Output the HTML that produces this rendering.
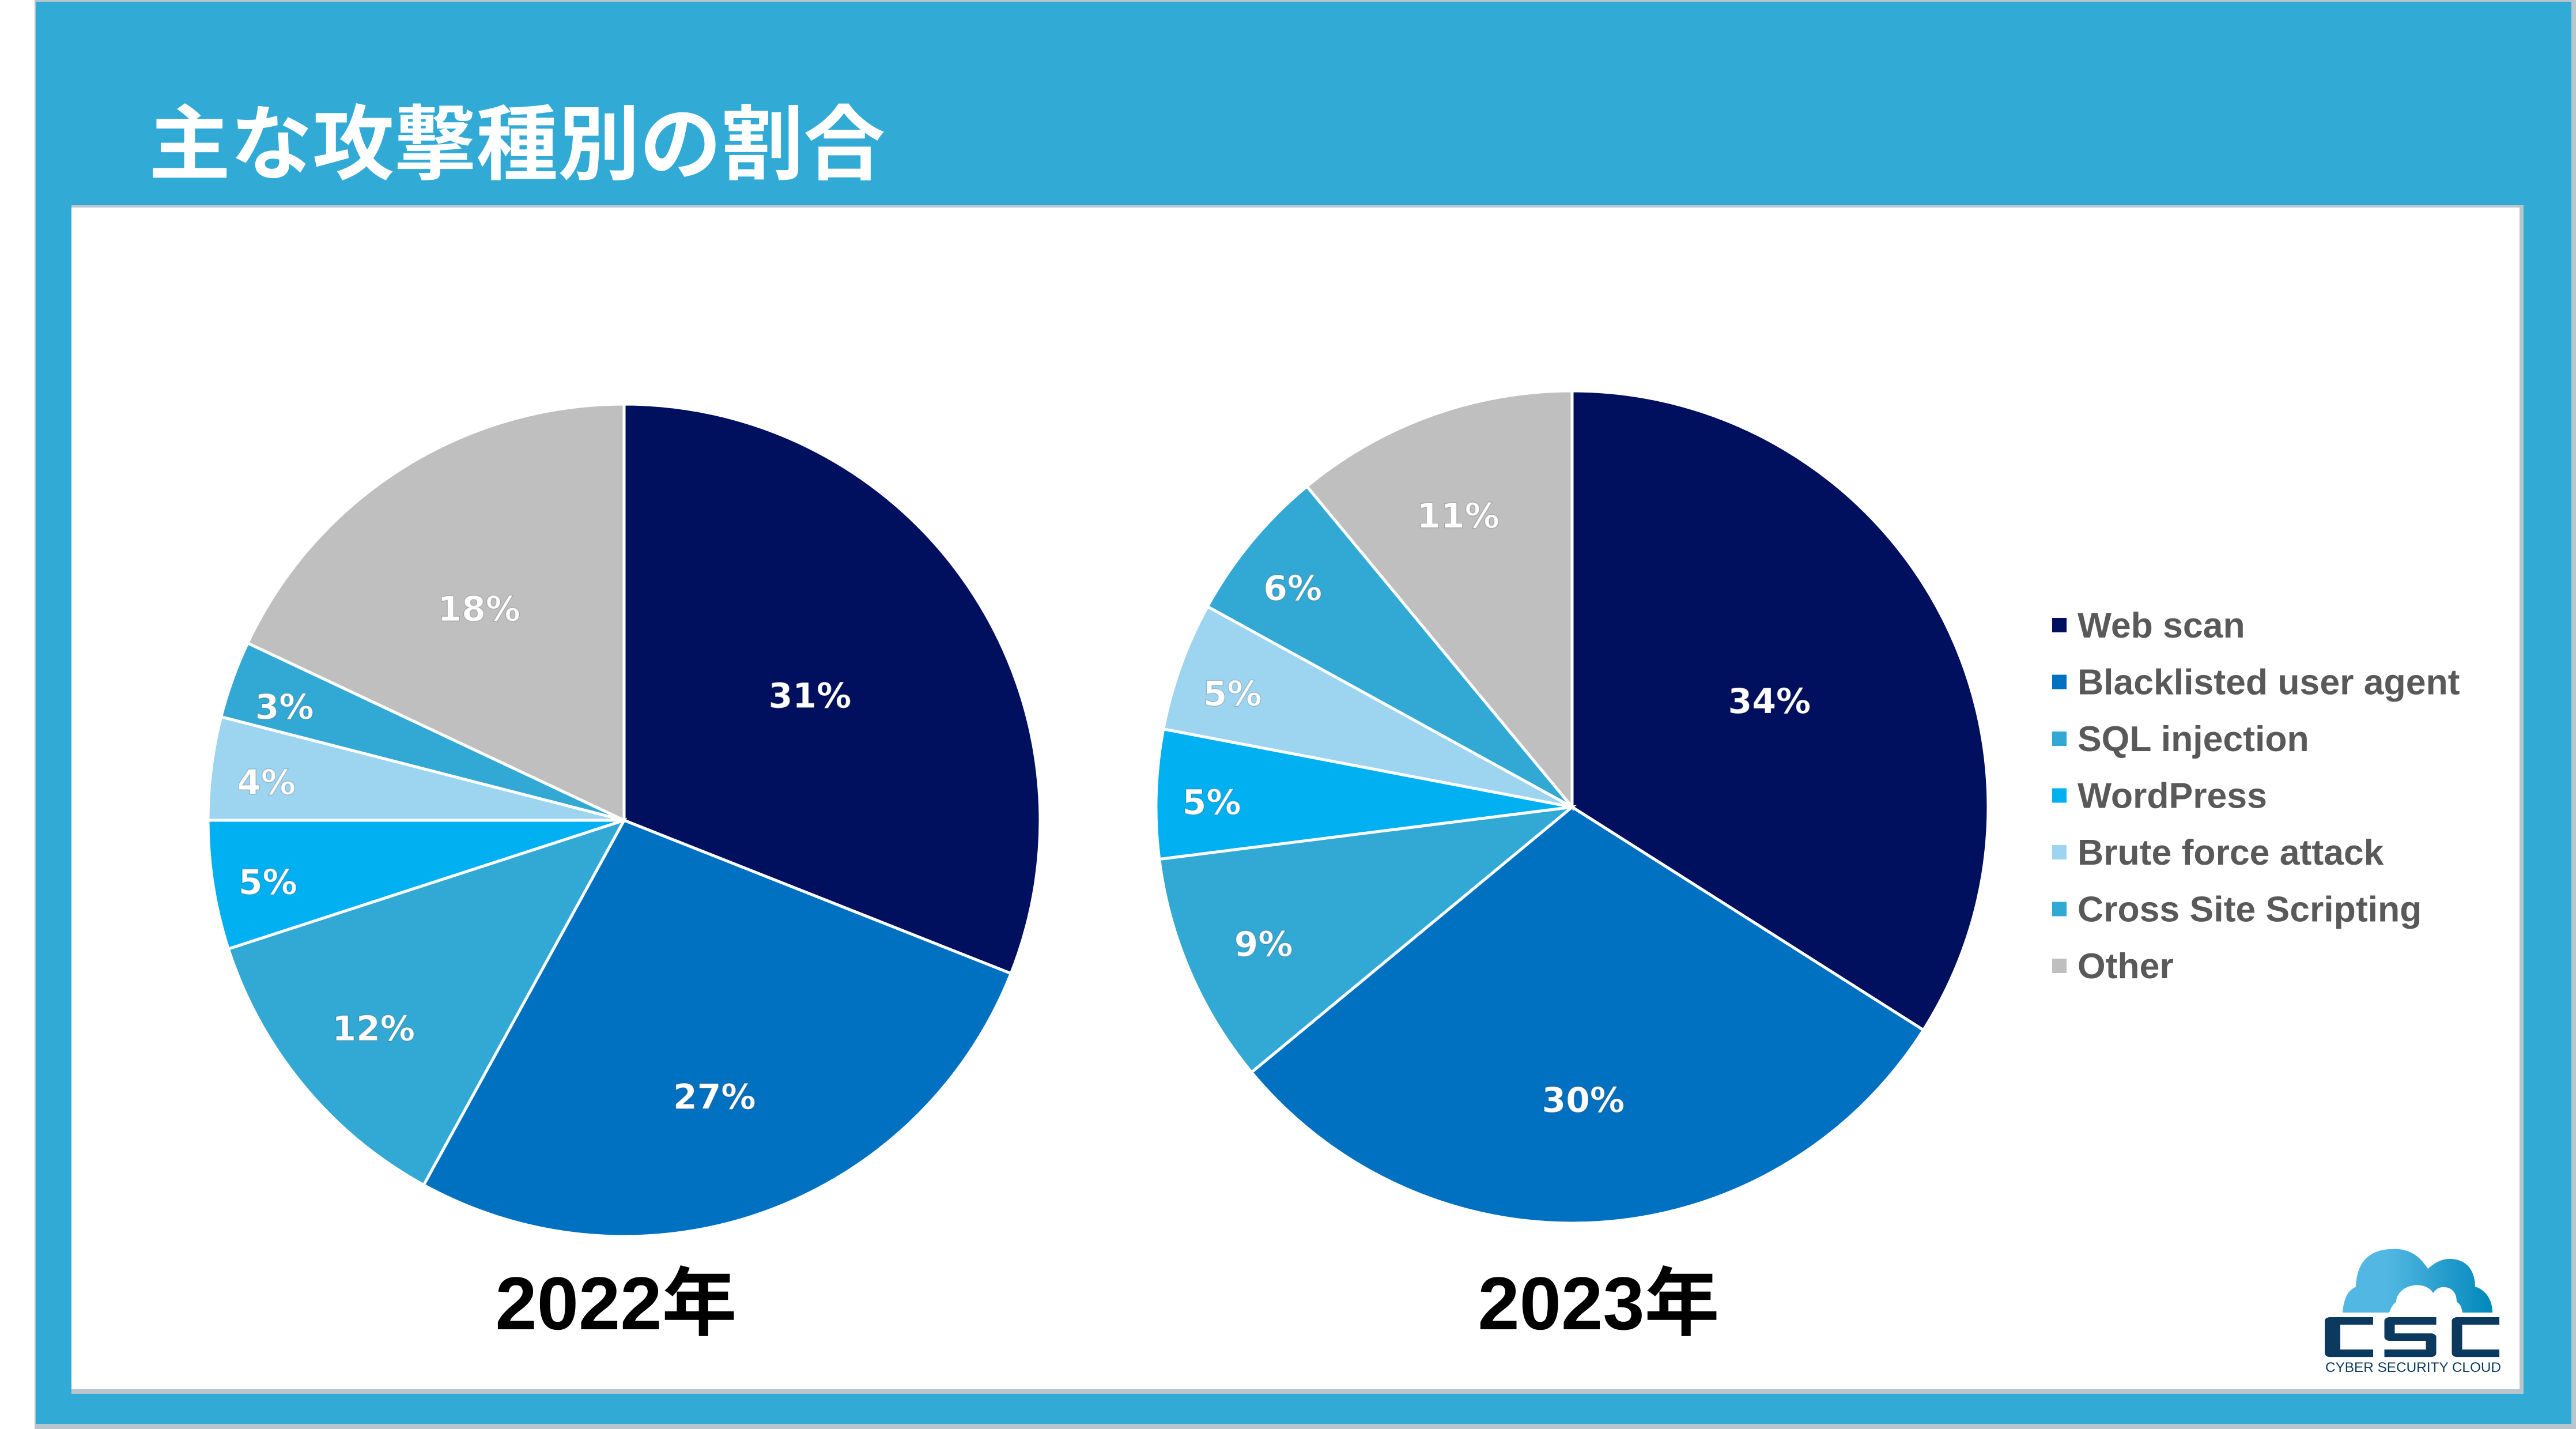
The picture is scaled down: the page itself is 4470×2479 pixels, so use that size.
<!DOCTYPE html>
<html><head><meta charset="utf-8">
<style>
html,body{margin:0;padding:0;background:#fff;}
body{width:4470px;height:2479px;overflow:hidden;position:relative;}
svg{position:absolute;left:0;top:0;}
</style></head>
<body>
<svg id="chart" width="4470" height="2479" viewBox="0 0 4470 2479" xmlns="http://www.w3.org/2000/svg">
  <rect x="0" y="0" width="4470" height="2479" fill="#ffffff"/>
  <rect x="60" y="0" width="4410" height="2479" fill="#b9c5cc"/>
  <rect x="62" y="3" width="4400" height="2467" fill="#31aad6"/>
  <rect x="124" y="356" width="4255" height="2062" fill="#b9c5cc"/>
  <rect x="124" y="360" width="4248" height="2050" fill="#ffffff"/>
  <text x="258" y="300" font-family="'Liberation Sans','Noto Sans CJK JP',sans-serif" font-weight="bold" font-size="142" fill="#ffffff">主な攻撃種別の割合</text>
  <g id="pies"></g>
  <g id="legend"></g>
  <g>
    <defs><linearGradient id="cg" x1="0" x2="1"><stop offset="0.3" stop-color="#52b7e2"/><stop offset="1" stop-color="#0088bb"/></linearGradient></defs>
    <g transform="translate(4065 2277) scale(1 0.69) translate(-4065 -2277)">
    <path d="M4065 2277 C4068 2230 4078 2220 4088 2212 C4090 2150 4110 2117 4155 2117 C4190 2117 4205 2150 4213 2167 C4222 2155 4235 2142 4250 2142 C4285 2142 4295 2180 4295 2212 C4310 2218 4325 2240 4325 2277 L4273 2277 C4271 2260 4268 2255 4263 2250 C4263 2228 4255 2213 4240 2213 C4230 2213 4225 2222 4222 2228 C4215 2210 4200 2208 4195 2208 C4172 2208 4158 2230 4158 2250 C4152 2256 4148 2268 4146 2277 Z" fill="url(#cg)"/>
    </g>
    <g transform="translate(4034 2285) scale(1.5 1.08) translate(-4036 -2285)">
    <path d="M4042 2285 h50 v12 h-38 v40 h38 v12 h-50 a6 6 0 0 1 -6 -6 v-52 a6 6 0 0 1 6 -6z M4105 2285 h60 v12 h-48 v14 h42 a6 6 0 0 1 6 6 v26 a6 6 0 0 1 -6 6 h-54 v-12 h48 v-14 h-42 a6 6 0 0 1 -6 -6 v-26 a6 6 0 0 1 6 -6z M4183 2285 h55 v12 h-43 v40 h43 v12 h-49 a6 6 0 0 1 -6 -6 v-52 a6 6 0 0 1 6 -6z" fill="#0b3a5e"/>
    </g>
    <text x="4035" y="2380" font-family="'Liberation Sans',sans-serif" font-size="24" fill="#0b3a5e" textLength="305" lengthAdjust="spacingAndGlyphs">CYBER SECURITY CLOUD</text>
  </g>
</svg>
<script>
const categories = ["Web scan","Blacklisted user agent","SQL injection","WordPress","Brute force attack","Cross Site Scripting","Other"];
const colors = ["#000f5e","#0070c0","#31a9d4","#00b0f0","#9dd5f0","#31a9d4","#bfbfbf"];
const values2022 = [31,27,12,5,4,3,18];
const values2023 = [34,30,9,5,5,6,11];
const years = ["2022年","2023年"];

const NS = "http://www.w3.org/2000/svg";
const pies = document.getElementById("pies");
const legend = document.getElementById("legend");
function mk(tag, attrs){const e=document.createElementNS(NS,tag);for(const k in attrs)e.setAttribute(k,attrs[k]);return e;}
function pt(cx,cy,r,a){return [cx+r*Math.sin(a), cy-r*Math.cos(a)];}
function labelFactor(v){ if(v<=6) return 0.85; if(v<=10) return 0.79; if(v<=12) return 0.76; if(v<=20) return 0.62; if(v<=30) return 0.69; return 0.56; }

function drawPie(values, cx, cy, r, year, titleX){
  const g = mk("g",{});
  
  
  pies.appendChild(g);
  const total = values.reduce((a,b)=>a+b,0);
  let cum = 0;
  values.forEach((v,i)=>{
    const a0 = cum/total*2*Math.PI; cum += v; const a1 = cum/total*2*Math.PI;
    const [x0,y0]=pt(cx,cy,r,a0), [x1,y1]=pt(cx,cy,r,a1);
    const large = (a1-a0)>Math.PI?1:0;
    const p = mk("path",{d:`M${cx} ${cy} L${x0} ${y0} A${r} ${r} 0 ${large} 1 ${x1} ${y1} Z`, fill:colors[i], stroke:"#ffffff","stroke-width":5});
    
    
    g.appendChild(p);
  });
  cum = 0;
  values.forEach((v,i)=>{
    const am = (cum + v/2)/total*2*Math.PI; cum += v;
    const [lx,ly]=pt(cx,cy,r*labelFactor(v),am);
    const t = mk("text",{x:lx-12,y:ly+32,"text-anchor":"middle","font-family":"'DejaVu Sans',sans-serif","font-weight":"bold","font-size":60,fill:"#ffffff",stroke:"rgba(0,0,0,0.2)","stroke-width":1.5});
    t.textContent = v + "%";
    
    
    g.appendChild(t);
  });
  const yt = mk("text",{x:titleX,y:2306,"text-anchor":"middle","font-family":"'Liberation Sans','Noto Sans CJK JP',sans-serif","font-weight":"bold","font-size":130,fill:"#000000"});
  yt.textContent = year;
  
  
  g.appendChild(yt);
}
drawPie(values2022, 1083, 1423, 722, years[0], 1069);
drawPie(values2023, 2728, 1400, 722, years[1], 2774);

categories.forEach((c,i)=>{
  const y = 1084 + i*98.5;
  const g = mk("g",{});
  
  
  legend.appendChild(g);
  g.appendChild(mk("rect",{x:3561,y:y-12,width:25,height:25,fill:colors[i]}));
  const t = mk("text",{x:3605,y:y+22,"font-family":"'Liberation Sans',sans-serif","font-weight":"bold","font-size":62.5,fill:"#595959"});
  t.textContent = c;
  g.appendChild(t);
});
</script>
</body></html>
